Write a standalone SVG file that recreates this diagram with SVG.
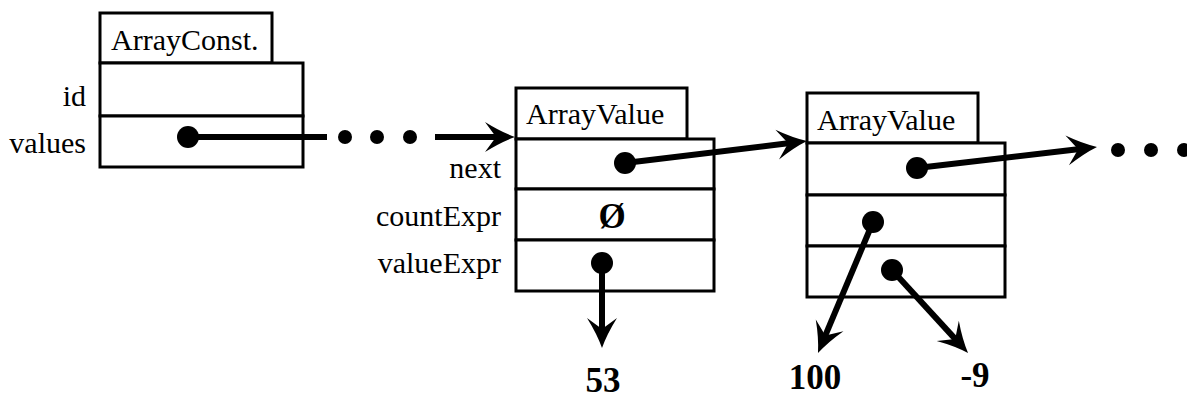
<svg xmlns="http://www.w3.org/2000/svg" width="1187" height="399" viewBox="0 0 1187 399">
  <style>
    .box { fill: #fff; stroke: #000; stroke-width: 3; }
    .lbl { font-family: "Liberation Serif", "Times New Roman", serif; font-size: 30px; fill: #000; }
    .num { font-family: "Liberation Serif", "Times New Roman", serif; font-size: 35px; font-weight: bold; fill: #000; }
    .ptr { stroke: #000; stroke-width: 6; fill: none; }
    .dot { fill: #000; }
  </style>
  <defs>
    <marker id="head" markerUnits="userSpaceOnUse" viewBox="-20 -18 40 36" refX="0" refY="0" markerWidth="40" markerHeight="36" orient="auto">
      <path d="M15,0 Q1,-5 -15,-15 L-4,0 L-15,15 Q1,5 15,0 Z" fill="#000"/>
    </marker>
  </defs>

  <!-- ArrayConst record -->
  <g id="arrayconst">
    <rect class="box" x="100" y="13" width="172" height="50"/>
    <text class="lbl" x="111" y="50">ArrayConst.</text>
    <rect class="box" x="100" y="63" width="203" height="53"/>
    <rect class="box" x="100" y="116" width="203" height="51"/>
    <text class="lbl" x="86" y="106" text-anchor="end">id</text>
    <text class="lbl" x="86" y="153" text-anchor="end">values</text>
    <circle class="dot" cx="188" cy="137" r="11"/>
  </g>

  <!-- first ArrayValue record -->
  <g id="arrayvalue1">
    <rect class="box" x="516" y="88" width="171" height="51"/>
    <text class="lbl" x="526" y="124">ArrayValue</text>
    <rect class="box" x="516" y="139" width="198" height="50"/>
    <rect class="box" x="516" y="189" width="198" height="51"/>
    <rect class="box" x="516" y="240" width="198" height="51"/>
    <text class="lbl" x="501" y="178" text-anchor="end">next</text>
    <text class="lbl" x="501" y="226" text-anchor="end">countExpr</text>
    <text class="lbl" x="501" y="273" text-anchor="end">valueExpr</text>
    <text class="num" x="612" y="228" text-anchor="middle">Ø</text>
    <circle class="dot" cx="625" cy="163" r="11"/>
    <circle class="dot" cx="602" cy="263" r="11"/>
  </g>

  <!-- second ArrayValue record -->
  <g id="arrayvalue2">
    <rect class="box" x="807" y="93" width="171" height="50"/>
    <text class="lbl" x="817" y="130">ArrayValue</text>
    <rect class="box" x="807" y="143" width="198" height="52"/>
    <rect class="box" x="807" y="195" width="198" height="51"/>
    <rect class="box" x="807" y="246" width="198" height="51"/>
    <circle class="dot" cx="917" cy="168" r="11"/>
    <circle class="dot" cx="873" cy="222" r="11"/>
    <circle class="dot" cx="892" cy="270" r="11"/>
  </g>

  <!-- value targets -->
  <g id="val53"><text class="num" x="603" y="392" text-anchor="middle">53</text></g>
  <g id="val100"><text class="num" x="815" y="389" text-anchor="middle">100</text></g>
  <g id="valneg9"><text class="num" x="975" y="387" text-anchor="middle">-9</text></g>

  <!-- pointers -->
  <g id="connectors">
    <line class="ptr" x1="188" y1="137" x2="327" y2="137"/>
    <circle class="dot" cx="345" cy="137" r="7"/>
    <circle class="dot" cx="377" cy="137" r="7"/>
    <circle class="dot" cx="410" cy="137" r="7"/>
    <line class="ptr" x1="435" y1="137" x2="500" y2="137" marker-end="url(#head)"/>

    <line class="ptr" x1="625" y1="163" x2="792.1" y2="142.8" marker-end="url(#head)"/>
    <line class="ptr" x1="602" y1="263" x2="602" y2="333" marker-end="url(#head)"/>

    <line class="ptr" x1="917" y1="168" x2="1082.1" y2="148.7" marker-end="url(#head)"/>
    <circle class="dot" cx="1118" cy="150" r="7"/>
    <circle class="dot" cx="1151" cy="150" r="7"/>
    <circle class="dot" cx="1184" cy="150" r="7"/>

    <line class="ptr" x1="873" y1="222" x2="823.8" y2="339.2" marker-end="url(#head)"/>
    <line class="ptr" x1="892" y1="270" x2="957.9" y2="341.9" marker-end="url(#head)"/>
  </g>
</svg>
